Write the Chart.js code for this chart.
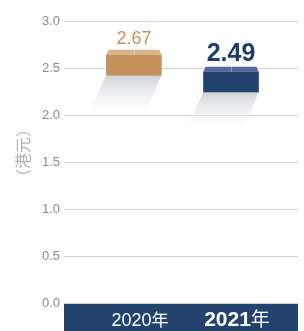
<!DOCTYPE html>
<html><head><meta charset="utf-8">
<script src="https://cdn.jsdelivr.net/npm/chart.js@4/dist/chart.umd.min.js"></script>
<style>html,body{margin:0;padding:0;background:#fff;}#wrap{width:304px;height:331px;position:relative}</style>
</head><body><div id="wrap"><canvas id="c"></canvas></div>
<script>
// ---- data ----
const categories = ['2020年', '2021年'];
const yearNumbers = ['2020', '2021'];
const yearSuffix = '年';
const values = [2.67, 2.49];
const yTickStep = 0.5;
const yMin = 0, yMax = 3;
const yTitle = '（港元）';
const highlightIndex = 1;

// ---- styles ----
const faceColors = ['#c4905e', '#23436f'];
const capColors = ['#dbb48c', '#53679a'];
const labelColors = ['#c4905e', '#1f3d6b'];
const bandColor = '#23436f';
const SANS = '"Liberation Sans", Arial, sans-serif';
const CJK = '"Noto Sans CJK SC", "Noto Sans CJK JP", sans-serif';

const boxDepth = 0.215;   // face height in value units
const boxTopGap = 0.03;

const boxPlugin = {
  id: 'box3d',
  beforeDatasetsDraw(chart) {
    const ctx = chart.ctx;
    const meta = chart.getDatasetMeta(0);
    meta.data.forEach((bar, i) => {
      const p = bar.getProps(['x', 'y', 'base', 'width'], true);
      const l = p.x - p.width / 2, r = p.x + p.width / 2, b = Math.max(p.y, p.base);
      const g = ctx.createLinearGradient(0, b, 0, b + 40);
      g.addColorStop(0, 'rgba(200,203,208,0.85)');
      g.addColorStop(0.5, 'rgba(225,227,230,0.5)');
      g.addColorStop(1, 'rgba(255,255,255,0)');
      ctx.save();
      ctx.beginPath();
      ctx.moveTo(l, b); ctx.lineTo(r, b);
      ctx.lineTo(r - 16, b + 40); ctx.lineTo(l - 19, b + 40);
      ctx.closePath();
      ctx.fillStyle = g; ctx.fill();
      ctx.restore();
    });
  },
  afterDatasetsDraw(chart) {
    const ctx = chart.ctx;
    const meta = chart.getDatasetMeta(0);
    const ys = chart.scales.y;
    meta.data.forEach((bar, i) => {
      const p = bar.getProps(['x', 'y', 'base', 'width'], true);
      const l = p.x - p.width / 2, r = p.x + p.width / 2, t = Math.min(p.y, p.base);
      ctx.save();
      ctx.beginPath();
      ctx.moveTo(l, t); ctx.lineTo(l + 2, t - 5); ctx.lineTo(r - 2, t - 5); ctx.lineTo(r, t);
      ctx.closePath();
      ctx.fillStyle = capColors[i]; ctx.fill();
      ctx.strokeStyle = 'rgba(255,255,255,0.35)'; ctx.lineWidth = 1;
      ctx.beginPath(); ctx.moveTo(Math.round(p.x) + 0.5, t - 5); ctx.lineTo(Math.round(p.x) + 0.5, t); ctx.stroke();
      // value label
      const vy = ys.getPixelForValue(values[i]);
      ctx.fillStyle = labelColors[i];
      ctx.textAlign = 'center'; ctx.textBaseline = 'alphabetic';
      ctx.font = (i === highlightIndex ? 'bold 25px ' : '18px ') + SANS;
      ctx.fillText(values[i].toFixed(2), p.x, vy - 8);
      ctx.restore();
    });
  },
  afterDraw(chart) {
    const ctx = chart.ctx, ca = chart.chartArea;
    const meta = chart.getDatasetMeta(0);
    ctx.save();
    ctx.fillStyle = bandColor;
    ctx.fillRect(ca.left, ca.bottom + 1, ca.right - ca.left, chart.height - ca.bottom - 1);
    ctx.textBaseline = 'alphabetic';
    meta.data.forEach((bar, i) => {
      const cx = bar.x + 6;
      const hi = i === highlightIndex;
      const numFont = (hi ? 'bold 21px ' : '18px ') + SANS;
      const sufFont = (hi ? '19px ' : '17px ') + CJK;
      ctx.font = numFont; const w1 = ctx.measureText(yearNumbers[i]).width;
      ctx.font = sufFont; const w2 = ctx.measureText(yearSuffix).width;
      let x0 = cx - (w1 + w2) / 2;
      ctx.fillStyle = '#ffffff'; ctx.textAlign = 'left';
      ctx.font = numFont; ctx.fillText(yearNumbers[i], x0, 326);
      ctx.font = sufFont; ctx.fillText(yearSuffix, x0 + w1, 326);
    });
    // y axis title
    ctx.translate(23, 153);
    ctx.rotate(-Math.PI / 2);
    ctx.font = '16px ' + CJK;
    ctx.fillStyle = '#b0b0b0';
    ctx.textAlign = 'center'; ctx.textBaseline = 'middle';
    ctx.fillText(yTitle, 0, 0);
    ctx.restore();
  }
};

new Chart(document.getElementById('c'), {
  type: 'bar',
  data: {
    datasets: [{
      data: values.map((v, i) => ({ x: i, y: [v - boxTopGap - boxDepth, v - boxTopGap] })),
      backgroundColor: faceColors,
      borderWidth: 0,
      barThickness: 55
    }]
  },
  options: {
    responsive: true,
    maintainAspectRatio: false,
    animation: false,
    devicePixelRatio: 1,
    layout: { padding: { top: 21, bottom: 28, left: 0, right: 6 } },
    plugins: { legend: { display: false }, tooltip: { enabled: false } },
    scales: {
      x: { type: 'linear', min: -0.72, max: 1.69, offset: false, display: false },
      y: {
        min: yMin, max: yMax,
        afterFit(s) { s.width = 64; },
        border: { display: false },
        grid: { color: '#d2d2d2', drawTicks: false, lineWidth: 1 },
        ticks: {
          stepSize: yTickStep, padding: 4, color: '#8a8a8a',
          font: { family: SANS, size: 13 },
          callback: v => Number(v).toFixed(1)
        }
      }
    }
  },
  plugins: [boxPlugin]
});
</script></body></html>
